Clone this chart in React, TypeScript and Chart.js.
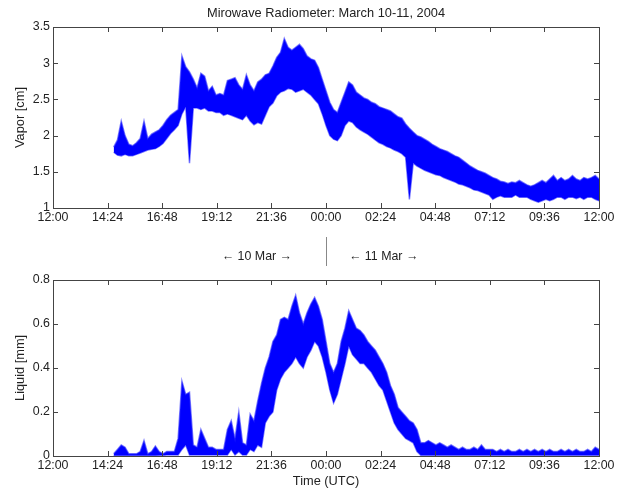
import React, { useEffect, useRef } from "react";
import { Chart, registerables } from "chart.js";

Chart.register(...registerables);

const CHART_TITLE = "Mirowave Radiometer: March 10-11, 2004";
const VAPOR_LABEL = "Vapor [cm]";
const LIQUID_LABEL = "Liquid [mm]";
const TIME_LABEL = "Time (UTC)";
const dayLabels = ["\u2190 10 Mar \u2192", "\u2190 11 Mar \u2192"];
const dayBoundaryMinute = 720; // 00:00 UTC, 11 Mar (minutes after 12:00, 10 Mar)

// x axis: minutes after 12:00 UTC on 10 March
const timeTickMinutes = [0, 144, 288, 432, 576, 720, 864, 1008, 1152, 1296, 1440];
const timeTickLabels = ["12:00", "14:24", "16:48", "19:12", "21:36", "00:00", "02:24", "04:48", "07:12", "09:36", "12:00"];
const vaporTicks = [1, 1.5, 2, 2.5, 3, 3.5];
const liquidTicks = [0, 0.2, 0.4, 0.6, 0.8];

// sample times (minutes after 12:00 UTC, 10 Mar)
const sampleMinutes = [
  160, 170, 180, 190, 200, 210, 220, 230, 240, 250,
  260, 270, 280, 290, 300, 310, 320, 330, 340, 350,
  360, 370, 380, 390, 400, 410, 420, 430, 440, 450,
  460, 470, 480, 490, 500, 510, 520, 530, 540, 550,
  560, 570, 580, 590, 600, 610, 620, 630, 640, 650,
  660, 670, 680, 690, 700, 710, 720, 730, 740, 750,
  760, 770, 780, 790, 800, 810, 820, 830, 840, 850,
  860, 870, 880, 890, 900, 910, 920, 930, 940, 950,
  960, 970, 980, 990, 1000, 1010, 1020, 1030, 1040, 1050,
  1060, 1070, 1080, 1090, 1100, 1110, 1120, 1130, 1140, 1150,
  1160, 1170, 1180, 1190, 1200, 1210, 1220, 1230, 1240, 1250,
  1260, 1270, 1280, 1290, 1300, 1310, 1320, 1330, 1340, 1350,
  1360, 1370, 1380, 1390, 1400, 1410, 1420, 1430, 1440,
];

// precipitable water vapor [cm]: lower / upper envelope of the noisy trace
const vaporLow = [
  1.77, 1.73, 1.72, 1.74, 1.72, 1.72, 1.74, 1.76, 1.78, 1.80,
  1.81, 1.82, 1.85, 1.89, 1.96, 2.03, 2.08, 2.14, 2.30, 2.40,
  1.62, 2.38, 2.38, 2.36, 2.38, 2.34, 2.34, 2.32, 2.32, 2.28,
  2.30, 2.28, 2.26, 2.24, 2.22, 2.28, 2.20, 2.15, 2.18, 2.16,
  2.28, 2.40, 2.45, 2.55, 2.60, 2.62, 2.65, 2.64, 2.60, 2.62,
  2.64, 2.60, 2.56, 2.50, 2.44, 2.30, 2.14, 2.00, 1.95, 1.93,
  2.00, 2.14, 2.20, 2.18, 2.12, 2.08, 2.05, 2.02, 1.98, 1.94,
  1.90, 1.88, 1.85, 1.83, 1.80, 1.78, 1.75, 1.70, 1.12, 1.62,
  1.58, 1.55, 1.52, 1.50, 1.48, 1.46, 1.45, 1.42, 1.40, 1.38,
  1.36, 1.33, 1.32, 1.30, 1.28, 1.25, 1.24, 1.22, 1.20, 1.18,
  1.12, 1.15, 1.17, 1.15, 1.15, 1.15, 1.18, 1.15, 1.15, 1.15,
  1.12, 1.10, 1.08, 1.10, 1.12, 1.10, 1.12, 1.15, 1.15, 1.12,
  1.15, 1.15, 1.13, 1.15, 1.12, 1.15, 1.15, 1.12, 1.10,
];
const vaporHigh = [
  1.84, 1.94, 2.20, 2.00, 1.88, 1.86, 1.90, 1.96, 2.20, 1.96,
  2.02, 2.05, 2.08, 2.14, 2.22, 2.28, 2.32, 2.36, 3.10, 2.95,
  2.88, 2.78, 2.66, 2.86, 2.82, 2.62, 2.68, 2.56, 2.58, 2.56,
  2.76, 2.78, 2.80, 2.70, 2.64, 2.84, 2.70, 2.62, 2.74, 2.78,
  2.84, 2.86, 2.96, 3.08, 3.15, 3.34, 3.22, 3.18, 3.22, 3.26,
  3.20, 3.10, 3.06, 3.04, 2.94, 2.78, 2.62, 2.46, 2.36, 2.32,
  2.46, 2.60, 2.74, 2.70, 2.60, 2.56, 2.52, 2.50, 2.46, 2.44,
  2.40, 2.38, 2.36, 2.34, 2.30, 2.26, 2.24, 2.16, 2.10, 2.05,
  2.00, 1.98, 1.95, 1.92, 1.88, 1.85, 1.82, 1.80, 1.78, 1.75,
  1.72, 1.70, 1.66, 1.62, 1.58, 1.55, 1.52, 1.50, 1.48, 1.45,
  1.42, 1.40, 1.37, 1.36, 1.34, 1.36, 1.35, 1.38, 1.35, 1.32,
  1.30, 1.32, 1.35, 1.38, 1.35, 1.40, 1.45, 1.38, 1.42, 1.38,
  1.40, 1.45, 1.40, 1.38, 1.42, 1.40, 1.42, 1.45, 1.40,
];

// liquid water path [mm]: lower / upper envelope of the noisy trace
const liquidLow = [
  0.002, 0.002, 0.002, 0.002, 0.002, 0.002, 0.002, 0.002, 0.002, 0.002,
  0.002, 0.002, 0.003, 0.003, 0.004, 0.004, 0.005, 0.005, 0.03, 0.05,
  0.005, 0.005, 0.005, 0.005, 0.005, 0.005, 0.005, 0.005, 0.005, 0.005,
  0.005, 0.03, 0.005, 0.02, 0.005, 0.005, 0.03, 0.02, 0.05, 0.04,
  0.15, 0.18, 0.20, 0.30, 0.35, 0.38, 0.40, 0.42, 0.45, 0.42,
  0.40, 0.45, 0.48, 0.52, 0.50, 0.45, 0.38, 0.30, 0.24, 0.28,
  0.35, 0.42, 0.50, 0.46, 0.44, 0.42, 0.42, 0.40, 0.38, 0.35,
  0.32, 0.30, 0.25, 0.20, 0.15, 0.12, 0.10, 0.08, 0.07, 0.06,
  0.02, 0.003, 0.003, 0.003, 0.003, 0.003, 0.003, 0.003, 0.003, 0.003,
  0.003, 0.003, 0.003, 0.003, 0.003, 0.003, 0.003, 0.003, 0.003, 0.003,
  0.003, 0.003, 0.003, 0.003, 0.003, 0.003, 0.003, 0.003, 0.003, 0.003,
  0.003, 0.003, 0.003, 0.003, 0.003, 0.003, 0.003, 0.003, 0.003, 0.003,
  0.003, 0.003, 0.003, 0.003, 0.003, 0.003, 0.003, 0.003, 0.003,
];
const liquidHigh = [
  0.01, 0.03, 0.05, 0.04, 0.01, 0.01, 0.01, 0.02, 0.07, 0.01,
  0.02, 0.045, 0.02, 0.01, 0.02, 0.02, 0.02, 0.08, 0.34, 0.28,
  0.29, 0.05, 0.04, 0.12, 0.08, 0.04, 0.04, 0.03, 0.03, 0.03,
  0.12, 0.16, 0.08, 0.20, 0.06, 0.05, 0.19, 0.16, 0.25, 0.33,
  0.40, 0.45, 0.52, 0.55, 0.62, 0.63, 0.62, 0.68, 0.73, 0.65,
  0.60, 0.65, 0.69, 0.72, 0.68, 0.62, 0.52, 0.42, 0.38, 0.42,
  0.52, 0.58, 0.66, 0.62, 0.58, 0.57, 0.55, 0.52, 0.50, 0.48,
  0.45, 0.42, 0.38, 0.32, 0.28, 0.22, 0.20, 0.18, 0.16, 0.15,
  0.12, 0.06, 0.06, 0.07, 0.06, 0.05, 0.06, 0.05, 0.04, 0.05,
  0.04, 0.03, 0.04, 0.03, 0.03, 0.04, 0.03, 0.05, 0.03, 0.03,
  0.03, 0.02, 0.03, 0.02, 0.03, 0.02, 0.02, 0.03, 0.02, 0.03,
  0.02, 0.03, 0.02, 0.03, 0.02, 0.03, 0.02, 0.02, 0.03, 0.02,
  0.03, 0.02, 0.03, 0.02, 0.02, 0.03, 0.02, 0.04, 0.03,
];

const FONT = "'Liberation Sans', Arial, Helvetica, sans-serif";
const TEXT = "#222222";
const AXIS = "#444444";
const BLUE = "#0000ff";
const BLUE_EDGE = "rgba(40, 40, 255, 0.6)";

const toPoints = (vals: number[]) => sampleMinutes.map((t, i) => ({ x: t, y: vals[i] }));

const boxPlugin = {
  id: "matlabBox",
  afterDatasetsDraw(chart: any) {
    const { ctx, chartArea: a, scales } = chart;
    const L = Math.round(a.left), R = Math.round(a.right), T = Math.round(a.top), B = Math.round(a.bottom);
    const tl = 5;
    ctx.save();
    ctx.strokeStyle = AXIS;
    ctx.lineWidth = 1;
    ctx.strokeRect(L + 0.5, T + 0.5, R - L, B - T);
    ctx.beginPath();
    for (const t of scales.x.ticks) {
      const px = Math.round(scales.x.getPixelForValue(t.value)) + 0.5;
      ctx.moveTo(px, B); ctx.lineTo(px, B - tl);
      ctx.moveTo(px, T); ctx.lineTo(px, T + tl);
    }
    for (const t of scales.y.ticks) {
      const py = Math.round(scales.y.getPixelForValue(t.value)) + 0.5;
      ctx.moveTo(L, py); ctx.lineTo(L + tl, py);
      ctx.moveTo(R, py); ctx.lineTo(R - tl, py);
    }
    ctx.stroke();
    ctx.restore();
  },
};

const dayPlugin = {
  id: "dayMarks",
  afterDraw(chart: any) {
    const { ctx, scales } = chart;
    const p0 = scales.x.getPixelForValue(dayBoundaryMinute);
    ctx.save();
    ctx.strokeStyle = "#888888";
    ctx.lineWidth = 1;
    ctx.beginPath();
    ctx.moveTo(Math.round(p0) + 0.5, 237);
    ctx.lineTo(Math.round(p0) + 0.5, 266);
    ctx.stroke();
    ctx.fillStyle = TEXT;
    ctx.font = `12.4px ${FONT}`;
    ctx.textBaseline = "middle";
    ctx.textAlign = "right";
    ctx.fillText(dayLabels[0], p0 - 34, 257);
    ctx.textAlign = "left";
    ctx.fillText(dayLabels[1], p0 + 23, 257);
    ctx.restore();
  },
};

function makeConfig(opts: {
  low: number[]; high: number[]; yTicks: number[]; yLabel: string;
  xTitle?: string; title?: string; xHeight: number; padTop: number; extra?: any[];
}) {
  return {
    type: "line" as const,
    data: {
      datasets: [
        {
          data: toPoints(opts.high),
          borderColor: BLUE_EDGE,
          backgroundColor: BLUE,
          borderWidth: 1.5,
          pointRadius: 0,
          fill: "+1",
          tension: 0,
        },
        {
          data: toPoints(opts.low),
          borderColor: BLUE_EDGE,
          backgroundColor: BLUE,
          borderWidth: 1.5,
          pointRadius: 0,
          fill: false,
          tension: 0,
        },
      ],
    },
    options: {
      responsive: false,
      animation: false as const,
      devicePixelRatio: 1,
      layout: { padding: { left: 0, right: 27, top: opts.padTop, bottom: 0 } },
      plugins: {
        legend: { display: false },
        tooltip: { enabled: false },
        title: opts.title
          ? {
              display: true,
              text: opts.title,
              fullSize: false,
              color: TEXT,
              font: { family: FONT, size: 12.8, weight: "normal" as const, lineHeight: 1.2 },
              padding: { top: 5.7, bottom: 5.94 },
            }
          : { display: false },
      },
      scales: {
        x: {
          type: "linear" as const,
          min: timeTickMinutes[0],
          max: timeTickMinutes[timeTickMinutes.length - 1],
          grid: { display: false, drawTicks: false },
          border: { display: false },
          afterBuildTicks: (s: any) => { s.ticks = timeTickMinutes.map((v) => ({ value: v })); },
          afterFit: (s: any) => { s.height = opts.xHeight; },
          ticks: {
            autoSkip: false,
            maxRotation: 0,
            padding: 3,
            color: TEXT,
            font: { family: FONT, size: 12.4, lineHeight: 1.1 },
            callback: (_v: any, i: number) => timeTickLabels[i],
          },
          title: opts.xTitle
            ? { display: true, text: opts.xTitle, color: TEXT, font: { family: FONT, size: 12.8, lineHeight: 1.2 }, padding: { top: 0, bottom: 2.3 } }
            : { display: false },
        },
        y: {
          type: "linear" as const,
          min: opts.yTicks[0],
          max: opts.yTicks[opts.yTicks.length - 1],
          grid: { display: false, drawTicks: false },
          border: { display: false },
          afterBuildTicks: (s: any) => { s.ticks = opts.yTicks.map((v) => ({ value: v })); },
          afterFit: (s: any) => { s.width = 53; },
          ticks: {
            padding: 3,
            color: TEXT,
            font: { family: FONT, size: 12.4, lineHeight: 1.1 },
            callback: (v: any) => String(v),
          },
          title: { display: true, text: opts.yLabel, color: TEXT, font: { family: FONT, size: 12.8, lineHeight: 1.2 }, padding: { top: 12.3, bottom: 0 } },
        },
      },
    },
    plugins: [boxPlugin, ...(opts.extra || [])],
  };
}

export default function App() {
  const topRef = useRef<HTMLCanvasElement>(null);
  const botRef = useRef<HTMLCanvasElement>(null);

  useEffect(() => {
    Chart.defaults.font.family = FONT;
    const top = new Chart(topRef.current as HTMLCanvasElement, makeConfig({
      low: vaporLow, high: vaporHigh, yTicks: vaporTicks, yLabel: VAPOR_LABEL,
      title: CHART_TITLE, xHeight: 62, padTop: 0, extra: [dayPlugin],
    }) as any);
    const bot = new Chart(botRef.current as HTMLCanvasElement, makeConfig({
      low: liquidLow, high: liquidHigh, yTicks: liquidTicks, yLabel: LIQUID_LABEL,
      xTitle: TIME_LABEL, xHeight: 35, padTop: 7,
    }) as any);
    return () => { top.destroy(); bot.destroy(); };
  }, []);

  return (
    <div style={{ position: "absolute", left: 0, top: 0, width: 626, height: 491, background: "#ffffff" }}>
      <canvas ref={topRef} width={626} height={270} style={{ position: "absolute", left: 0, top: 0, width: 626, height: 270 }} />
      <canvas ref={botRef} width={626} height={221} style={{ position: "absolute", left: 0, top: 270, width: 626, height: 221 }} />
    </div>
  );
}
